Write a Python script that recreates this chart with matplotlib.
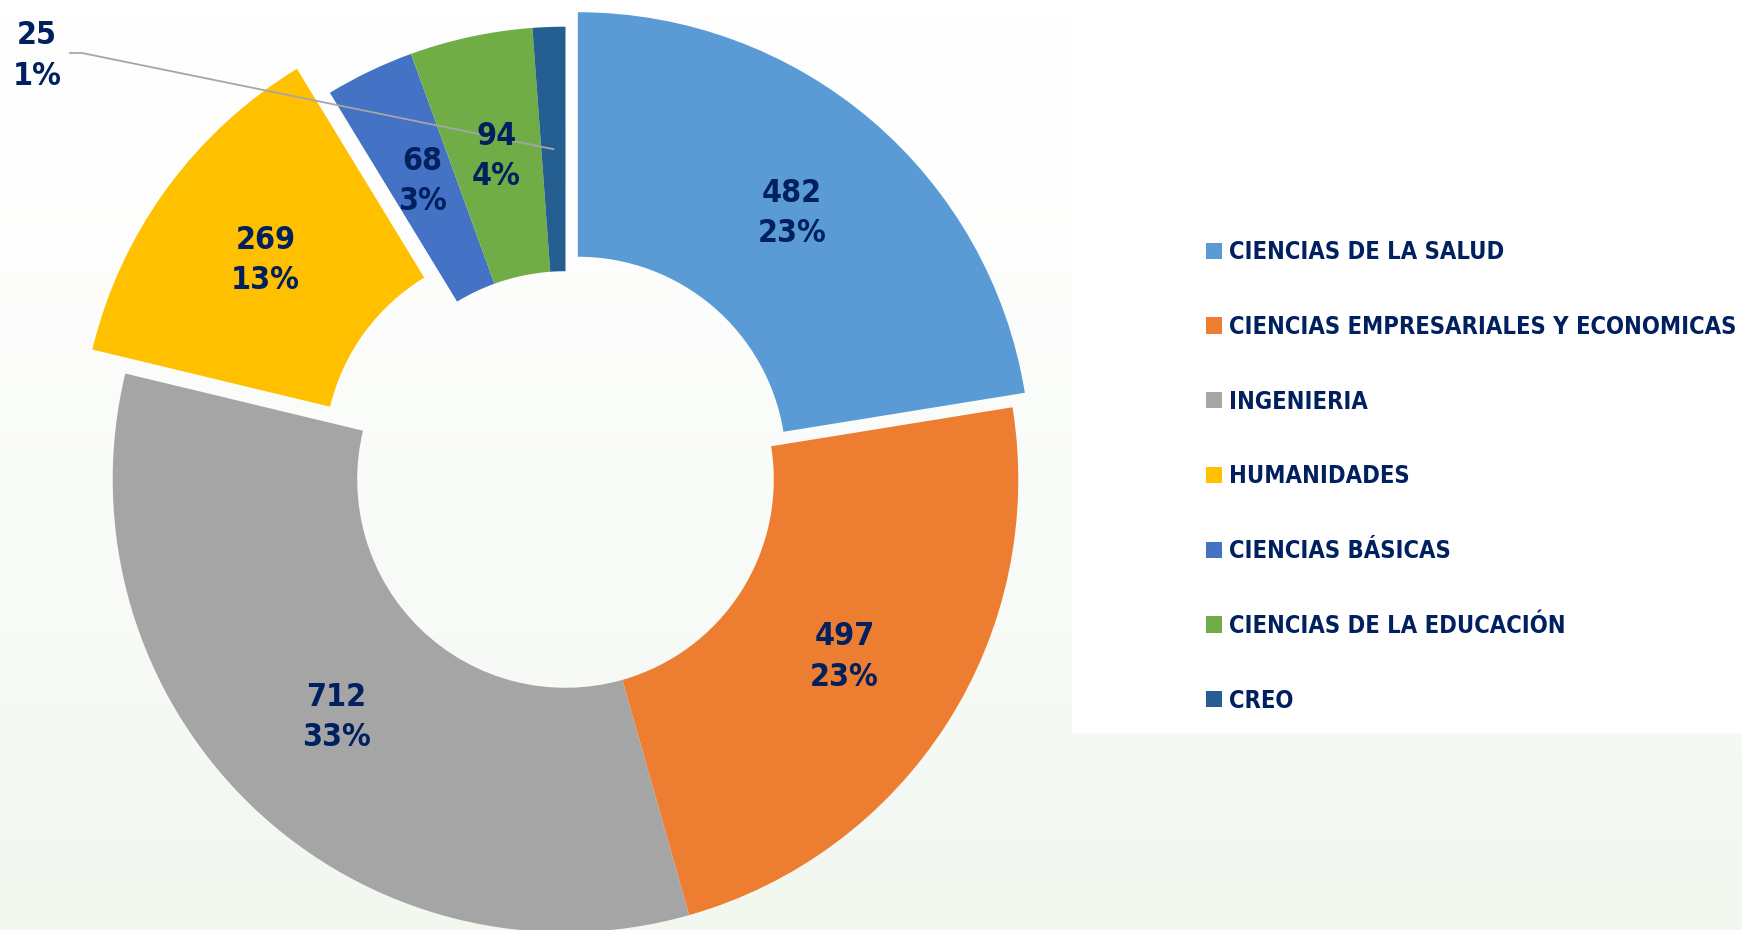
import numpy as np
import matplotlib.pyplot as plt
from matplotlib.colors import LinearSegmentedColormap
from matplotlib.patches import Rectangle

# data
categories = ["CIENCIAS DE LA SALUD", "CIENCIAS EMPRESARIALES Y ECONOMICAS", "INGENIERIA",
              "HUMANIDADES", "CIENCIAS BÁSICAS", "CIENCIAS DE LA EDUCACIÓN", "CREO"]
values = [482, 497, 712, 269, 68, 94, 25]
pct_labels = ["23%", "23%", "33%", "13%", "3%", "4%", "1%"]

colors = ["#5B9BD5", "#ED7D31", "#A5A5A5", "#FFC000", "#4472C4", "#70AD47", "#255E91"]
explode_frac = [0.042, 0, 0, 0.09, 0, 0, 0]
navy = "#002060"
FONT = ["DejaVu Sans"]

W, H = 1742, 930
fig = plt.figure(figsize=(W / 100, H / 100), dpi=100)
ax = fig.add_axes([0, 0, 1, 1])

# soft background, white box behind legend
bg = LinearSegmentedColormap.from_list("bg", ["#FFFFFF", "#F2F7F0"])
grad = np.linspace(0, 1, 256).reshape(-1, 1) ** 1.3
ax.imshow(grad, cmap=bg, extent=(0, W, 0, H), aspect="auto", zorder=0)
ax.add_patch(Rectangle((1072, H - 733), W - 1072, 733, facecolor="white", edgecolor="none", zorder=0.5))

R = 452.8
center = (565.5, H - 479.5)
wedges, _ = ax.pie(values, colors=colors, startangle=90, counterclock=False,
                   radius=R, center=center, explode=[e * R for e in explode_frac],
                   wedgeprops=dict(width=R * 0.54, linewidth=0), frame=True)

lbl_kw = dict(ha="center", va="center", color=navy, fontsize=23, fontweight="heavy",
              family=FONT, fontstretch="condensed", linespacing=1.38, zorder=4)

# data labels in the middle of the ring
for i, w in enumerate(wedges):
    th = np.deg2rad((w.theta1 + w.theta2) / 2)
    rm = w.r - w.width / 2
    px = w.center[0] + rm * np.cos(th)
    py = w.center[1] + rm * np.sin(th)
    txt = f"{values[i]}\n{pct_labels[i]}"
    if categories[i] == "CREO":
        # label moved outside with a leader line
        ax.plot([70, 82, px], [H - 53, H - 53, py], color="#A6A6A6", lw=1.3, zorder=3)
        ax.text(37, H - 56, txt, **lbl_kw)
    else:
        ax.text(px, py, txt, **lbl_kw)

leg = ax.legend(wedges, categories, loc="upper left", bbox_to_anchor=(1206, H - 240),
                bbox_transform=ax.transData, frameon=False, borderpad=0, borderaxespad=0,
                prop=dict(family=FONT, weight="bold", stretch="condensed", size=17),
                labelcolor=navy, handlelength=0.68, handleheight=0.68, handletextpad=0.3,
                labelspacing=2.15)

ax.set_xlim(0, W)
ax.set_ylim(0, H)
ax.set_aspect("equal")
ax.axis("off")

plt.savefig("out.png", dpi=100)
